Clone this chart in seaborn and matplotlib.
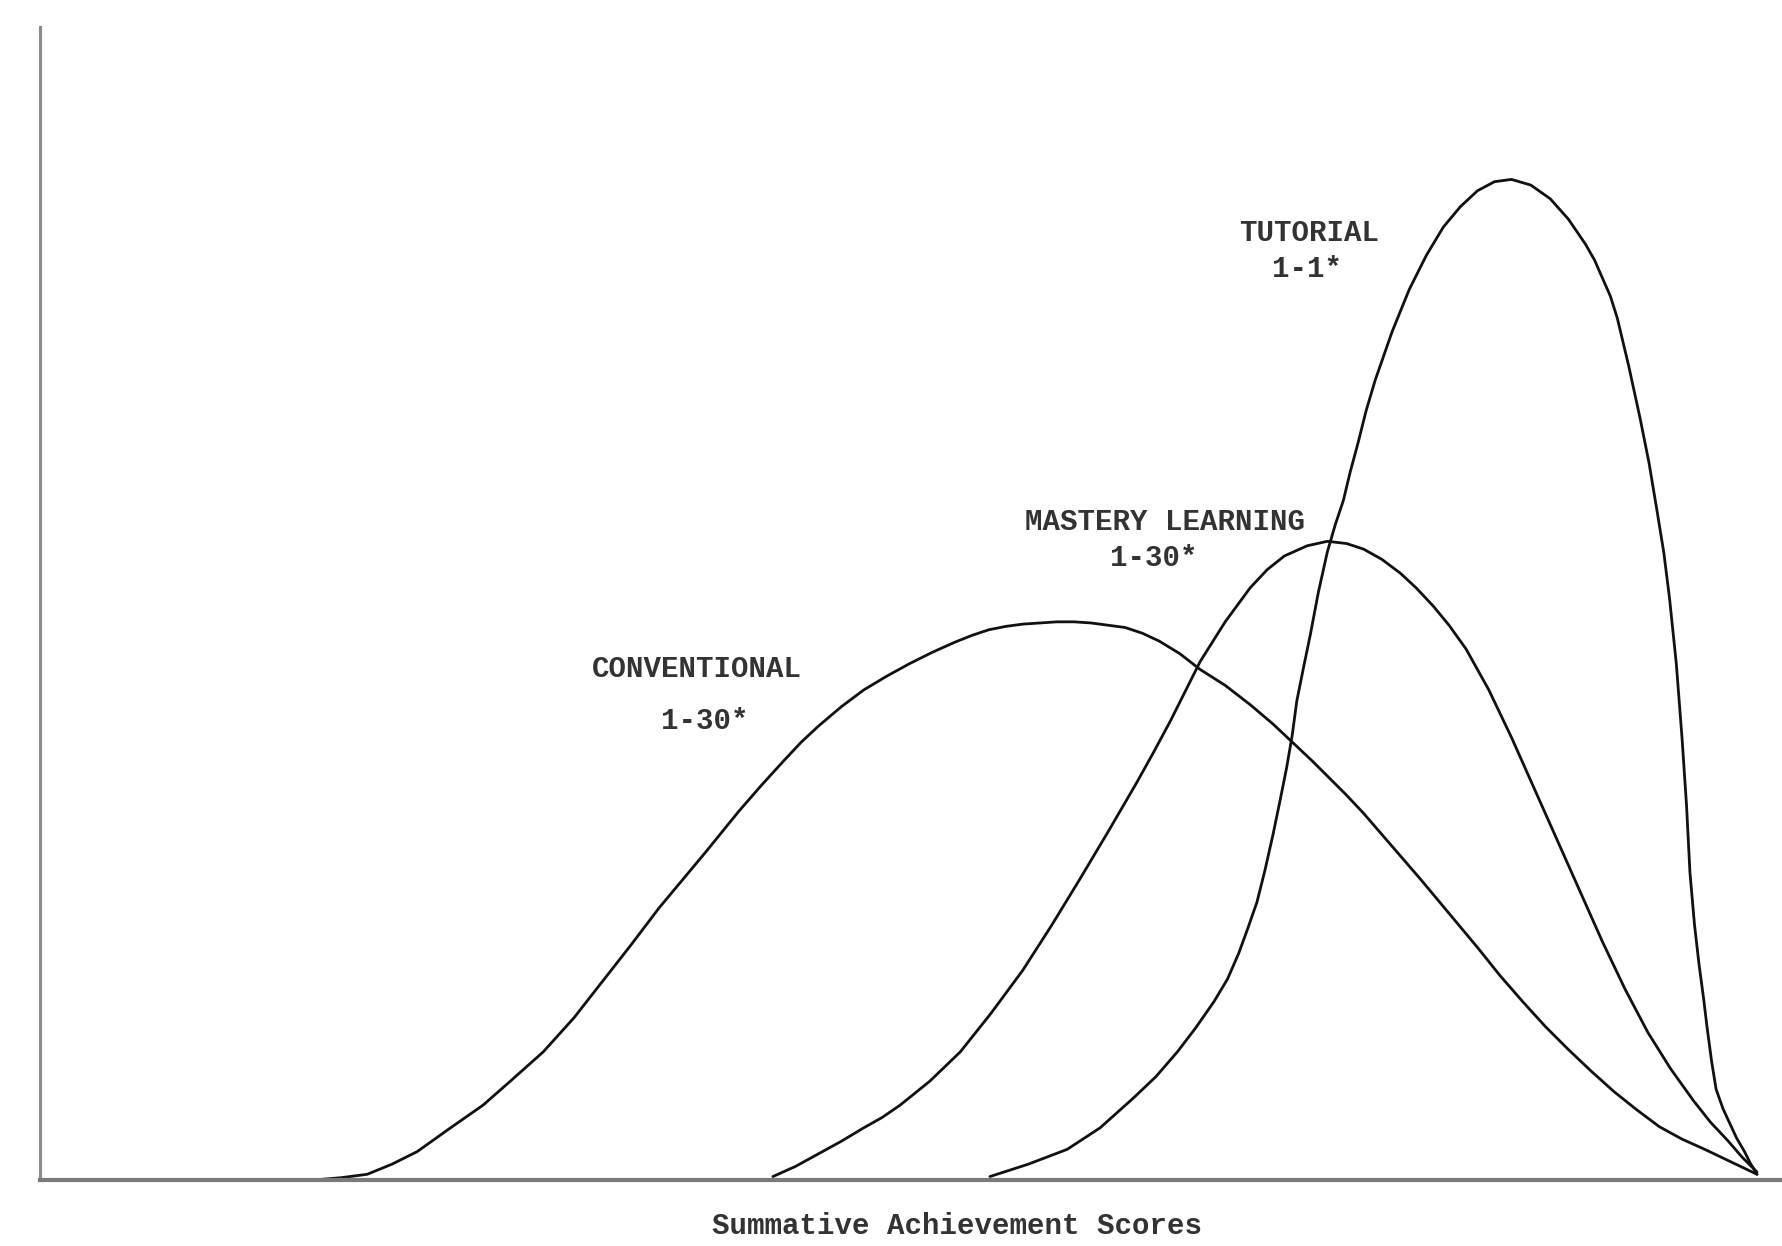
import matplotlib
matplotlib.use("Agg")
import matplotlib.pyplot as plt
import seaborn as sns
import pandas as pd

# ---- data (score on x, relative frequency on y, arbitrary units) ----
conv_x = [276, 300, 323, 345, 367, 395, 425, 450, 478, 505, 530, 555, 580, 600, 620, 650,
          670, 690, 705, 720, 740, 760, 780, 800, 820, 840, 855, 870, 885, 900, 915, 930,
          945, 960, 975, 990, 1005, 1020, 1038, 1056, 1078, 1100, 1120, 1137, 1155, 1170,
          1185, 1200, 1225, 1250, 1275, 1300, 1320, 1340, 1360, 1380, 1400, 1420, 1440,
          1460, 1480, 1500, 1523, 1546]
conv_y = [0, 2, 5, 14, 25, 45, 66, 88, 113, 143, 175, 207, 240, 264, 288, 325,
          348, 370, 386, 400, 417, 432, 444, 455, 465, 474, 480, 485, 488, 490, 491, 492,
          492, 491, 489, 487, 482, 475, 464, 450, 436, 419, 402, 386, 369, 354,
          339, 323, 294, 265, 235, 205, 180, 157, 135, 115, 96, 78, 62,
          47, 36, 27, 16, 5]

mast_x = [680, 700, 720, 740, 760, 776, 792, 818, 845, 872, 900, 925, 950, 975, 1000, 1015,
          1030, 1043, 1056, 1078, 1100, 1115, 1130, 1150, 1168, 1185, 1200, 1216, 1232,
          1246, 1261, 1275, 1290, 1310, 1330, 1350, 1370, 1390, 1410, 1430, 1450, 1470,
          1490, 1505, 1520, 1533, 1546]
mast_y = [3, 12, 23, 34, 46, 55, 66, 87, 113, 147, 185, 224, 265, 307, 350, 377,
          405, 431, 457, 492, 522, 538, 550, 559, 563, 561, 556, 547, 535,
          522, 506, 489, 468, 432, 390, 345, 300, 255, 210, 168, 130, 98,
          70, 51, 35, 20, 7]

tut_x = [871, 905, 939, 968, 997, 1017, 1036, 1052, 1068, 1080, 1090, 1098, 1106, 1113,
         1120, 1126, 1132, 1137, 1141, 1147, 1153, 1160, 1168, 1175, 1182, 1188, 1195,
         1202, 1210, 1225, 1240, 1255, 1270, 1285, 1300, 1315, 1330, 1347, 1364, 1380,
         1395, 1403, 1410, 1417, 1423, 1433, 1443, 1451, 1458, 1464, 1469, 1475, 1480,
         1484, 1487, 1491, 1495, 1499, 1502, 1506, 1510, 1516, 1522, 1528, 1535, 1540, 1546]
tut_y = [3, 14, 27, 46, 72, 91, 113, 134, 157, 177, 200, 222, 245, 273,
         304, 333, 363, 392, 422, 452, 481, 518, 554, 578, 599, 624, 650,
         678, 705, 748, 785, 815, 840, 858, 872, 880, 882, 877, 865, 847,
         825, 811, 795, 779, 760, 718, 672, 632, 590, 553, 513, 455, 390,
         330, 271, 225, 190, 160, 135, 105, 80, 63, 50, 37, 25, 15, 5]

labels = [("TUTORIAL", "1-1*"), ("MASTERY LEARNING", "1-30*"), ("CONVENTIONAL", "1-30*")]
x_label = "Summative Achievement Scores"

# ---- figure ----
sns.set_theme(style="white")
plt.rcParams["font.family"] = ["Liberation Mono", "DejaVu Sans Mono"]

fig = plt.figure(figsize=(17.82, 12.46), dpi=100)
ax = fig.add_axes([0.0224, 0.053, 0.9776, 0.925])

df = pd.concat([
    pd.DataFrame({"score": conv_x, "freq": conv_y, "group": "Conventional"}),
    pd.DataFrame({"score": mast_x, "freq": mast_y, "group": "Mastery"}),
    pd.DataFrame({"score": tut_x, "freq": tut_y, "group": "Tutorial"}),
])
sns.lineplot(data=df, x="score", y="freq", hue="group", estimator=None, sort=True,
             palette=["#111111", "#111111", "#111111"], linewidth=2.0, legend=False,
             solid_joinstyle="round", solid_capstyle="round", ax=ax)

ax.set_xlim(35, 1568)
ax.set_ylim(0, 1016)
ax.set_xticks([])
ax.set_yticks([])
ax.set_ylabel("")
for s in ["top", "right"]:
    ax.spines[s].set_visible(False)
ax.spines["left"].set_color("#8a8a8a")
ax.spines["left"].set_linewidth(2.2)
ax.spines["bottom"].set_color("#7a7a7a")
ax.spines["bottom"].set_linewidth(3.0)

tkw = dict(ha="center", va="center", fontsize=21, fontweight="bold", color="#333333")
ax.text(1152, 835, labels[0][0], **tkw)
ax.text(1150, 803, labels[0][1], **tkw)
ax.text(1025, 580, labels[1][0], **tkw)
ax.text(1015, 548, labels[1][1], **tkw)
ax.text(613, 450, labels[2][0], **tkw)
ax.text(620, 405, labels[2][1], **tkw)

ax.set_xlabel(x_label, fontsize=21, fontweight="bold", color="#333333")
ax.xaxis.label.set_va("center")
ax.xaxis.set_label_coords(0.5264, -0.040)

fig.savefig("out.png", dpi=100, facecolor="white")
